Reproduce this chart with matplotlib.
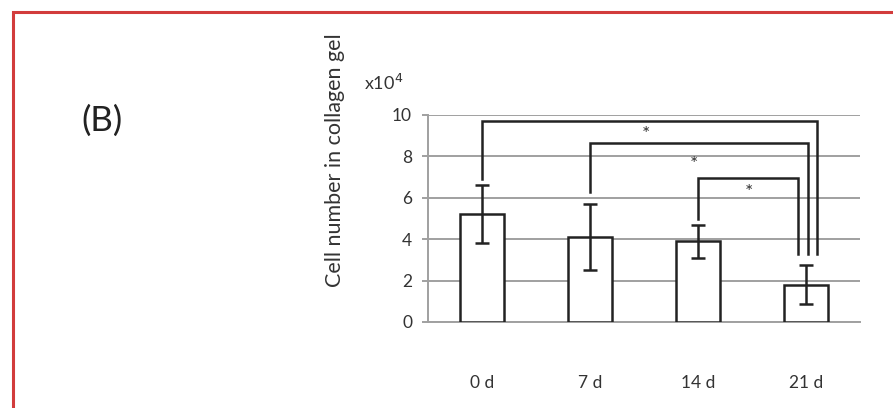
import numpy as np
import matplotlib.pyplot as plt
from matplotlib.patches import Rectangle

plt.rcParams['font.family'] = ['Lato', 'DejaVu Sans']

# data (x10^4 cells)
days = ['0 d', '7 d', '14 d', '21 d']
cell_mean = [5.2, 4.1, 3.9, 1.8]
cell_err = [1.4, 1.6, 0.8, 0.95]

# significance brackets: (left bar, right bar, height, left leg end, right leg end, right leg offset)
brackets = [(0, 3, 9.7, 6.9, 3.3, 0.10),
            (1, 3, 8.65, 6.3, 3.3, 0.02),
            (2, 3, 6.95, 5.0, 3.3, -0.07)]
star_pos = [(1.52, 9.05), (1.96, 7.6), (2.47, 6.25)]

fig = plt.figure(figsize=(8.93, 4.08), dpi=100)

# red frame (runs off the right and bottom edges)
fig.patches.append(Rectangle((13 / 893, -0.05), 0.99, 1.05 - 12 / 408,
                             transform=fig.transFigure, fill=False,
                             edgecolor='#d23c3c', linewidth=2.2))

ax = fig.add_axes([428 / 893, 1 - 322 / 408, 432 / 893, 207 / 408])
x = np.arange(len(days))
ax.bar(x, cell_mean, width=0.41, color='white', edgecolor='#222222',
       linewidth=1.8, zorder=3)
ax.errorbar(x, cell_mean, yerr=cell_err, fmt='none', ecolor='#222222',
            elinewidth=1.8, capsize=5, capthick=1.8, zorder=4)

for l, r, h, lb, rb, off in brackets:
    ax.plot([l, l, r + off, r + off], [lb, h, h, rb], color='#222222',
            lw=1.8, zorder=5, clip_on=False, solid_joinstyle='miter')
for sx, sy in star_pos:
    ax.text(sx, sy, '*', ha='center', va='center', fontsize=14, color='#333333')

ax.set_xlim(-0.5, 3.5)
ax.set_ylim(0, 10)
ax.set_yticks(np.arange(0, 11, 2))
ax.yaxis.grid(True, color='#a0a0a0', linewidth=1.4, zorder=0)
ax.set_axisbelow(True)
for s in ['top', 'right']:
    ax.spines[s].set_visible(False)
ax.spines['left'].set_color('#a0a0a0')
ax.spines['bottom'].set_color('#a0a0a0')
ax.spines['left'].set_linewidth(1.4)
ax.spines['bottom'].set_linewidth(1.4)
ax.tick_params(axis='y', length=4.5, color='#a0a0a0', width=1.4,
               labelsize=12.5, labelcolor='#333333', pad=7)
ax.set_xticks(x)
ax.set_xticklabels(days)
ax.tick_params(axis='x', length=0, labelsize=12.5, labelcolor='#333333', pad=38)

ax.set_ylabel('Cell number in collagen gel', fontsize=15.5, color='#333333')
ax.yaxis.set_label_coords(-0.193, 0.78)
fig.text(364 / 893, 1 - 83 / 408, r'x10$^4$', fontsize=13, color='#333333',
         va='center', ha='left')
fig.text(102 / 893, 1 - 121 / 408, '(B)', fontsize=25, color='#222222',
         va='center', ha='center')

fig.savefig('out.png', dpi=100)
